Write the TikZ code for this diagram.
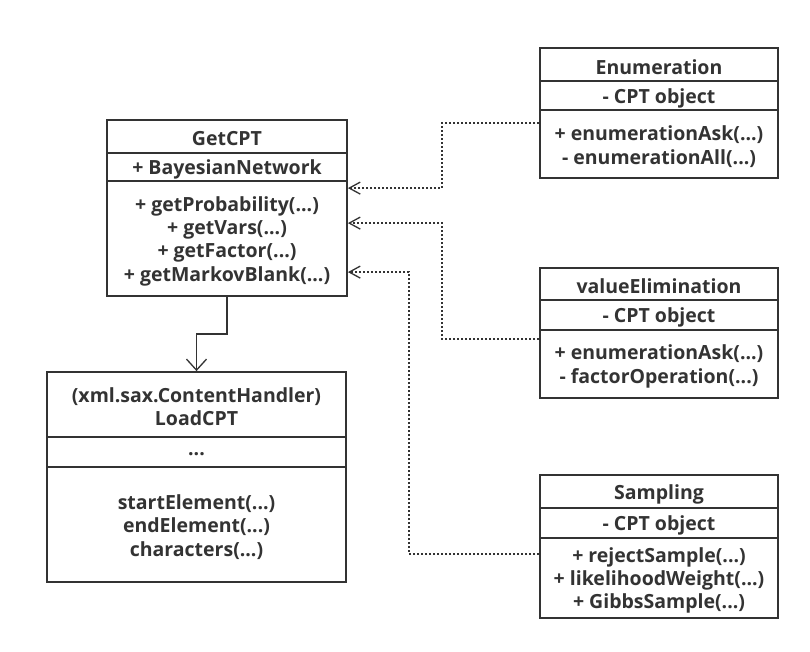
\documentclass[tikz,border=0pt]{standalone}
\usepackage{fontspec}
\setmainfont{Open Sans}[BoldFont={Open Sans Bold}]
\usetikzlibrary{arrows.meta}
\definecolor{ink}{HTML}{333333}
\tikzset{
  part/.style={draw=ink, line width=1.8pt, rectangle, inner sep=0pt},
  lbl/.style={inner sep=0pt, align=center, text=ink, yshift=-2.5pt,
    font=\bfseries\fontsize{19.5}{23.3}\selectfont},
  txt/.style={label={[lbl]center:{#1}}},
  dep/.style={draw=ink, line width=2pt, dash pattern=on 2pt off 2pt,
    -{Straight Barb[length=11pt,width=12pt,line width=1.3pt]}},
  assoc/.style={draw=ink, line width=1.8pt,
    -{Straight Barb[length=11pt,width=20pt,line width=1.3pt]}}
}
\begin{document}
\begin{tikzpicture}[x=1pt,y=-1pt]
\useasboundingbox[fill=white] (0,0) rectangle (810,652);
% GetCPT
\node[part, minimum width=240pt, minimum height=33pt, txt={GetCPT}] (gt) at (227,136.5) {};
\node[part, minimum width=240pt, minimum height=28pt, txt={+ BayesianNetwork}] (ga) at (227,167) {};
\node[part, minimum width=240pt, minimum height=115pt, txt={+ getProbability(...)\\+ getVars(...)\\+ getFactor(...)\\+ getMarkovBlank(...)}] (gm) at (227,238.5) {};
% LoadCPT
\node[part, minimum width=299pt, minimum height=65pt, txt={(xml.sax.ContentHandler)\\LoadCPT}] (lt) at (196.5,404.5) {};
\node[part, minimum width=299pt, minimum height=30pt, txt={...}] (la) at (196.5,452) {};
\node[part, minimum width=299pt, minimum height=115pt, txt={startElement(...)\\endElement(...)\\characters(...)}] (lm) at (196.5,524.5) {};
% Enumeration
\node[part, minimum width=238pt, minimum height=33pt, txt={Enumeration}] (et) at (659,64.5) {};
\node[part, minimum width=238pt, minimum height=29pt, txt={- CPT object}] (ea) at (659,95.5) {};
\node[part, minimum width=238pt, minimum height=68pt, txt={+ enumerationAsk(...)\\- enumerationAll(...)}] (em) at (659,144) {};
% valueElimination
\node[part, minimum width=238pt, minimum height=32pt, txt={valueElimination}] (vt) at (659,284) {};
\node[part, minimum width=238pt, minimum height=30pt, txt={- CPT object}] (va) at (659,315) {};
\node[part, minimum width=238pt, minimum height=68pt, txt={+ enumerationAsk(...)\\- factorOperation(...)}] (vm) at (659,364) {};
% Sampling
\node[part, minimum width=238pt, minimum height=33pt, txt={Sampling}] (st) at (659,491.5) {};
\node[part, minimum width=238pt, minimum height=30pt, txt={- CPT object}] (sa) at (659,523) {};
\node[part, minimum width=238pt, minimum height=80pt, txt={+ rejectSample(...)\\+ likelihoodWeight(...)\\+ GibbsSample(...)}] (sm) at (659,578) {};
% connectors
\draw[assoc] (gm.south) -- ++(0,37) -| (lt.north);
\draw[dep] ([yshift=-14pt]em.north west) -- ++(-97,0) |- ([yshift=-8pt]gm.north east);
\draw[dep] ([yshift=-10pt]vm.north west) -- ++(-97,0) |- ([yshift=-43pt]gm.north east);
\draw[dep] ([yshift=-17pt]sm.north west) -- ++(-130,0) |- ([yshift=-92pt]gm.north east);
\end{tikzpicture}
\end{document}
